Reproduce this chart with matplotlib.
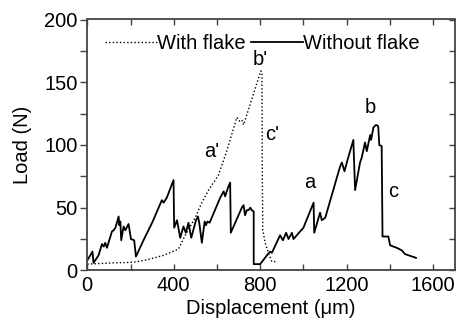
import matplotlib
matplotlib.use("Agg")
import matplotlib.pyplot as plt
from matplotlib.ticker import MultipleLocator

plt.rcParams['font.family'] = ['Liberation Sans', 'DejaVu Sans']
plt.rcParams['font.size'] = 14.5

# Without flake (solid)
wo_x = [0, 24, 29, 52, 68, 76, 83, 91, 114, 122, 130, 137, 145, 148, 153, 157, 168, 176, 191, 202,
        217, 225, 260, 300, 345, 353, 368, 399, 402, 415, 430, 445, 456, 468, 481, 503, 512, 518,
        530, 543, 549, 556, 566, 615, 631, 638, 651, 661, 664, 715, 723, 730, 738, 746, 754, 761,
        770, 770, 800, 831, 846, 854, 892, 905, 920, 931, 947, 954, 1000, 1047, 1050, 1077, 1085,
        1101, 1170, 1178, 1190, 1204, 1231, 1239, 1262, 1270, 1285, 1293, 1309, 1313, 1324, 1336,
        1346, 1351, 1362, 1366, 1393, 1401, 1432, 1455, 1470, 1521]
wo_y = [8, 15, 6, 12, 21, 19, 22, 18, 31, 32, 34, 38, 43, 36, 39, 24, 35, 32, 37, 25,
        24, 11, 24, 38, 56, 54, 58, 72, 34, 40, 26, 35, 30, 38, 26, 40, 43, 38,
        22, 39, 36, 39, 38, 58, 63, 59, 66, 70, 30, 50, 52, 44, 48, 48, 50, 48,
        47, 5, 5, 12, 15, 14, 28, 24, 30, 25, 30, 25, 34, 54, 30, 46, 40,
        42, 83, 86, 79, 88, 104, 64, 86, 90, 102, 95, 108, 104, 114, 116,
        115, 100, 99, 27, 27, 20, 18, 16, 13, 10]

# With flake (dotted)
w_x = [0, 122, 214, 276, 353, 422, 453, 499, 530, 561, 607, 647, 692, 704, 715, 723, 803, 808,
       810, 812, 823, 838, 854, 877]
w_y = [5, 6, 6.5, 8.4, 12, 17, 28, 42, 54, 64, 76, 96, 122, 119, 120, 116, 159, 158,
       72, 32, 22, 14, 7, 7]

labels = ["a'", "b'", "c'", "a", "b", "c"]
label_x = [577, 802, 854, 1031, 1309, 1417]
label_y = [95, 168, 108, 70, 130, 63]

fig = plt.figure(figsize=(4.57, 3.25), dpi=100)
ax = fig.add_axes([0.191, 0.168, 0.804, 0.772])

ax.plot(w_x, w_y, color='black', linestyle=(0, (1, 1.6)), linewidth=1.0, label='With flake')
ax.plot(wo_x, wo_y, color='black', linestyle='-', linewidth=1.3, label='Without flake')

for t, xx, yy in zip(labels, label_x, label_y):
    ax.text(xx, yy, t, ha='center', va='center', fontsize=14.5)

ax.set_xlim(0, 1700)
ax.set_ylim(0, 200)
ax.set_xticks([0, 400, 800, 1200, 1600])
ax.set_yticks([0, 50, 100, 150, 200])
ax.xaxis.set_minor_locator(MultipleLocator(200))
ax.yaxis.set_minor_locator(MultipleLocator(25))
ax.tick_params(axis='x', which='both', direction='in', length=4, width=1, color='#444444', top=False, pad=4)
ax.tick_params(axis='y', which='both', direction='out', length=5, width=1, color='#444444', right=False, pad=2)

secx = ax.secondary_xaxis('top')
secx.set_xticks([0, 400, 800, 1200, 1600])
secx.xaxis.set_minor_locator(MultipleLocator(200))
secx.tick_params(axis='x', which='both', direction='in', length=4, width=1, color='#444444', labeltop=False)
secx.spines['top'].set_visible(False)

secy = ax.secondary_yaxis('right')
secy.set_yticks([0, 50, 100, 150, 200])
secy.yaxis.set_minor_locator(MultipleLocator(25))
secy.tick_params(axis='y', which='both', direction='in', length=4, width=1, color='#444444', labelright=False)
secy.spines['right'].set_visible(False)

for s in ax.spines.values():
    s.set_linewidth(1.3)
    s.set_color('#444444')

ax.set_xlabel('Displacement (\u03bcm)', labelpad=3)
ax.set_ylabel('Load (N)', labelpad=9)

ax.legend(loc='upper left', bbox_to_anchor=(0.01, 1.0), ncol=2, frameon=False,
          handlelength=2.6, handletextpad=0.0, columnspacing=0.25, borderpad=0.2, fontsize=14.5)

fig.savefig('out.png', dpi=100)
